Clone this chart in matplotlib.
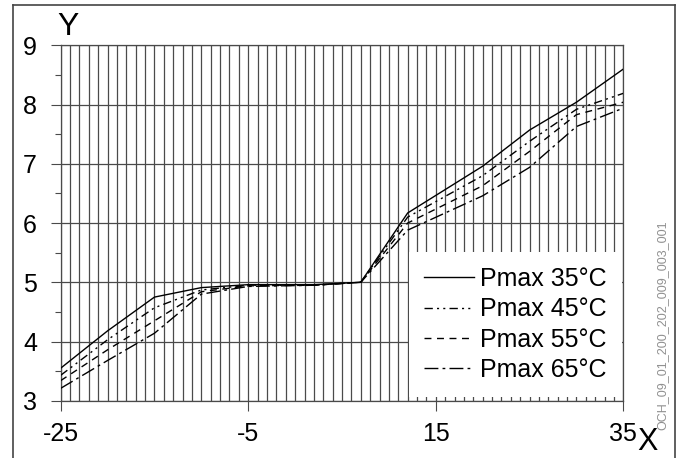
import numpy as np
import matplotlib
matplotlib.use("Agg")
import matplotlib.pyplot as plt
from matplotlib.lines import Line2D

plt.rcParams['font.family'] = ['Liberation Sans', 'DejaVu Sans']
plt.rcParams['axes.unicode_minus'] = False

# data
x = [-25, -20, -15, -10, -5, 2, 7, 12, 20, 25, 30, 35]
p35 = [3.55, 4.18, 4.75, 4.91, 4.96, 4.96, 5.0, 6.17, 6.96, 7.57, 8.04, 8.60]
p45 = [3.43, 4.03, 4.57, 4.87, 4.95, 4.95, 5.0, 6.10, 6.80, 7.38, 7.92, 8.19]
p55 = [3.34, 3.86, 4.35, 4.84, 4.94, 4.95, 5.0, 6.00, 6.63, 7.21, 7.83, 8.04]
p65 = [3.21, 3.68, 4.14, 4.80, 4.93, 4.95, 5.0, 5.88, 6.46, 6.94, 7.63, 7.94]
labels = ["Pmax 35°C", "Pmax 45°C", "Pmax 55°C", "Pmax 65°C"]
xticks = [-25, -5, 15, 35]
yticks = [3, 4, 5, 6, 7, 8, 9]

fig = plt.figure(figsize=(6.82, 4.58), dpi=100)
ax = fig.add_axes([0.089, 0.125, 0.825, 0.776])

styles = ['-', (0, (6, 3, 1.5, 3, 1.5, 3)), (0, (5, 4)), (0, (10, 3, 2, 3))]
for yy, ls, lab in zip([p35, p45, p55, p65], styles, labels):
    ax.plot(x, yy, color='black', lw=1.0, ls=ls, label=lab, zorder=3)

ax.set_xlim(-25, 35)
ax.set_ylim(3, 9)
ax.set_xticks(xticks)
ax.set_yticks(yticks)
ax.set_yticks(np.arange(3.5, 9, 1), minor=True)

# grid every 1 unit in x
for gx in range(-25, 36):
    ax.axvline(gx, color='#4a4a4a', lw=0.9, zorder=1)
for gy in yticks:
    ax.axhline(gy, color='#4a4a4a', lw=0.9, zorder=1)

ax.tick_params(axis='x', which='major', pad=8)
ax.tick_params(axis='y', which='major', pad=10)
ax.tick_params(axis='both', which='major', labelsize=18, color='#4a4a4a',
               length=7, width=0.8)
ax.tick_params(axis='y', which='minor', length=4, width=0.8, color='#4a4a4a')
for s in ax.spines.values():
    s.set_color('#4a4a4a')
    s.set_linewidth(0.9)

fig.text(0.099, 0.94, "Y", fontsize=23, ha='center', va='center')
fig.text(0.950, 0.036, "X", fontsize=22, ha='center', va='center')
fig.text(0.971, 0.29, "OCH_09_01_200_202_009_003_001", fontsize=9,
         color='#909090', rotation=90, ha='center', va='center')

leg = ax.legend(loc='lower right', bbox_to_anchor=(0.997, 0.011),
                borderaxespad=0, fontsize=18, frameon=True, fancybox=False,
                edgecolor='none', facecolor='white', framealpha=1,
                handlelength=2.0, handletextpad=0.25, labelspacing=0.25,
                borderpad=0.6)
leg.set_zorder(5)

# outer frame (left, top, right)
fc = '#444444'
fig.add_artist(Line2D([13/682, 13/682], [0, 1 - 5/458], color=fc, lw=1.2))
fig.add_artist(Line2D([13/682, 675/682], [1 - 5/458, 1 - 5/458], color=fc, lw=1.2))
fig.add_artist(Line2D([675/682, 675/682], [0, 1 - 5/458], color=fc, lw=1.2))

fig.savefig("out.png", dpi=100)
